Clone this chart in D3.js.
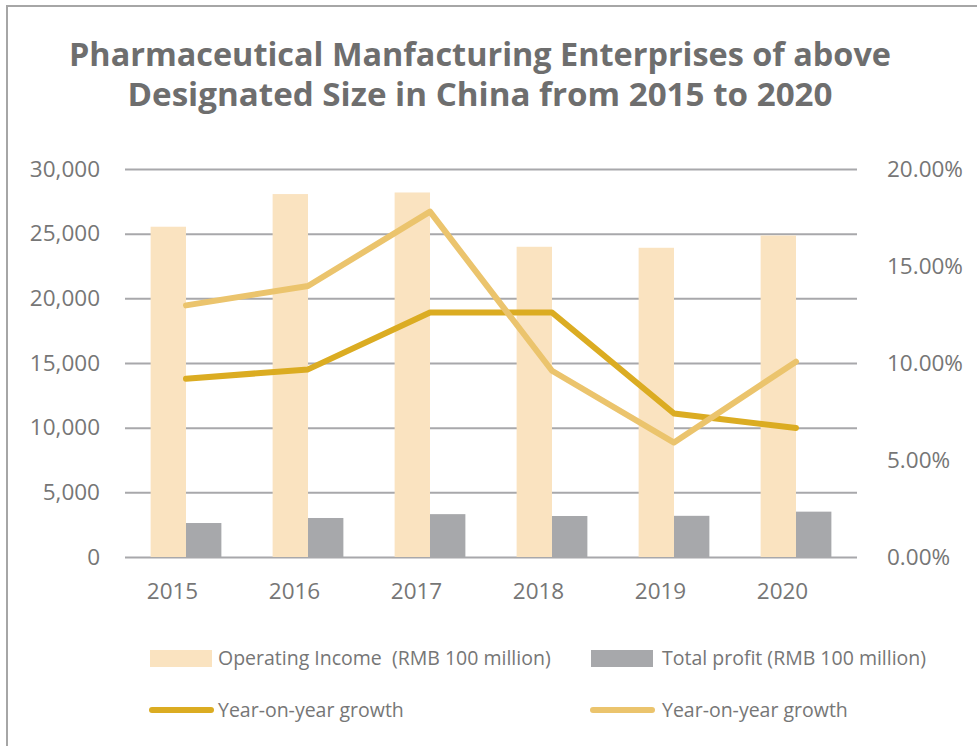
<!DOCTYPE html>
<html lang="en">
  <head>
    <meta charset="UTF-8" />
    <script src="https://d3js.org/d3.v7.min.js"></script>
    <title>Pharmaceutical Manufacturing Enterprises</title>
    <style>
      body { margin: 0; background: #fff; }
      text { font-family: "Open Sans", "Noto Sans", sans-serif; }
    </style>
  </head>
  <body>
    <svg id="chart" width="977" height="746"></svg>
    <script>
      // Data
      var years = ['2015', '2016', '2017', '2018', '2019', '2020'];
      var operatingIncome = [25537, 28062, 28185, 23986, 23909, 24857];
      var totalProfit = [2627, 3016, 3314, 3170, 3184, 3507];
      var incomeGrowth = [0.0919, 0.0967, 0.126, 0.126, 0.074, 0.0665];
      var profitGrowth = [0.1297, 0.1397, 0.178, 0.096, 0.059, 0.1007];
      var leftTicks = [0, 5000, 10000, 15000, 20000, 25000, 30000];
      var rightTicks = [0, 0.05, 0.1, 0.15, 0.2];
      var titleLines = [
        'Pharmaceutical Manfacturing Enterprises of above',
        'Designated Size in China from 2015 to 2020'
      ];

      var svg = d3.select('#chart');

      var colIncome = '#fae3c0',
        colProfit = '#a7a8ab',
        colIncomeGrowth = '#dbac22',
        colProfitGrowth = '#ebc46d',
        colGrid = '#a8a8ab',
        colText = '#767676';

      // outer frame
      svg.append('rect')
        .attr('x', 7).attr('y', 6)
        .attr('width', 1000).attr('height', 800)
        .attr('fill', 'none')
        .attr('stroke', '#a6a6a6')
        .attr('stroke-width', 2);

      // title
      var titleWidths = [822, 705];
      svg.append('g').selectAll('text')
        .data(titleLines)
        .enter().append('text')
        .attr('x', 480)
        .attr('y', function(d, i) { return 66 + i * 40; })
        .attr('text-anchor', 'middle')
        .attr('font-size', 32)
        .attr('font-weight', 'bold')
        .attr('fill', '#6e6e6e')
        .attr('textLength', function(d, i) { return titleWidths[i]; })
        .attr('lengthAdjust', 'spacingAndGlyphs')
        .text(function(d) { return d; });

      // scales
      var x = d3.scaleBand().domain(years).range([125, 857]).padding(0);
      var yLeft = d3.scaleLinear().domain([0, 30000]).range([557, 169]);
      var yRight = d3.scaleLinear().domain([0, 0.2]).range([557, 169]);
      var barW = x.bandwidth() * 0.29;
      var cx = function(d) { return x(d) + x.bandwidth() / 2; };

      function styleLabels(g) {
        g.select('.domain').remove();
        g.selectAll('text').attr('font-size', 22.5).attr('fill', colText)
          .style('font-family', '"Open Sans", sans-serif');
      }

      // gridlines
      svg.append('g')
        .attr('transform', 'translate(125,0)')
        .call(d3.axisLeft(yLeft).tickValues(leftTicks).tickSize(-732).tickFormat(''))
        .call(function(g) {
          g.select('.domain').remove();
          g.selectAll('line').attr('stroke', colGrid).attr('stroke-width', 2);
        });

      // left axis labels
      svg.append('g')
        .attr('transform', 'translate(125,0)')
        .call(d3.axisLeft(yLeft).tickValues(leftTicks).tickSize(0).tickPadding(25).tickFormat(d3.format(',')))
        .call(styleLabels);

      // right axis labels
      svg.append('g')
        .attr('transform', 'translate(857,0)')
        .call(d3.axisRight(yRight).tickValues(rightTicks).tickSize(0).tickPadding(30).tickFormat(d3.format('.2%')))
        .call(styleLabels);

      // x axis labels (sit a little left of the bar pairs, as in the original)
      svg.append('g')
        .attr('transform', 'translate(-13.5,557)')
        .call(d3.axisBottom(x).tickSize(0).tickPadding(26))
        .call(styleLabels);

      // bars
      svg.append('g').selectAll('rect')
        .data(years)
        .enter().append('rect')
        .attr('x', function(d) { return cx(d) - barW; })
        .attr('y', function(d, i) { return yLeft(operatingIncome[i]); })
        .attr('width', barW)
        .attr('height', function(d, i) { return yLeft(0) - yLeft(operatingIncome[i]); })
        .attr('fill', colIncome);

      svg.append('g').selectAll('rect')
        .data(years)
        .enter().append('rect')
        .attr('x', function(d) { return cx(d); })
        .attr('y', function(d, i) { return yLeft(totalProfit[i]); })
        .attr('width', barW)
        .attr('height', function(d, i) { return yLeft(0) - yLeft(totalProfit[i]); })
        .attr('fill', colProfit);

      // lines
      var line = d3.line()
        .x(function(d, i) { return cx(years[i]); })
        .y(function(d) { return yRight(d); });

      svg.append('path')
        .datum(incomeGrowth)
        .attr('d', line)
        .attr('fill', 'none')
        .attr('stroke', colIncomeGrowth)
        .attr('stroke-width', 6)
        .attr('stroke-linecap', 'round')
        .attr('stroke-linejoin', 'round');

      svg.append('path')
        .datum(profitGrowth)
        .attr('d', line)
        .attr('fill', 'none')
        .attr('stroke', colProfitGrowth)
        .attr('stroke-width', 6)
        .attr('stroke-linecap', 'round')
        .attr('stroke-linejoin', 'round');

      // legend
      var legend = [
        { label: 'Operating Income  (RMB 100 million)', type: 'bar', color: colIncome, x: 150, y: 658, tx: 68 },
        { label: 'Total profit (RMB 100 million)', type: 'bar', color: colProfit, x: 591, y: 658, tx: 71 },
        { label: 'Year-on-year growth', type: 'line', color: colIncomeGrowth, x: 150, y: 710, tx: 68 },
        { label: 'Year-on-year growth', type: 'line', color: colProfitGrowth, x: 591, y: 710, tx: 71 }
      ];

      var lg = svg.append('g').selectAll('g')
        .data(legend)
        .enter().append('g')
        .attr('transform', function(d) { return 'translate(' + d.x + ',' + d.y + ')'; });

      lg.filter(function(d) { return d.type === 'bar'; })
        .append('rect')
        .attr('x', 0).attr('y', -8)
        .attr('width', 62).attr('height', 17)
        .attr('fill', function(d) { return d.color; });

      lg.filter(function(d) { return d.type === 'line'; })
        .append('line')
        .attr('x1', 2).attr('x2', 61)
        .attr('y1', 0).attr('y2', 0)
        .attr('stroke', function(d) { return d.color; })
        .attr('stroke-width', 6)
        .attr('stroke-linecap', 'round');

      lg.append('text')
        .attr('x', function(d) { return d.tx; })
        .attr('y', 7)
        .attr('font-size', 19.5)
        .attr('fill', colText)
        .style('white-space', 'pre')
        .text(function(d) { return d.label; });
    </script>
  </body>
</html>
